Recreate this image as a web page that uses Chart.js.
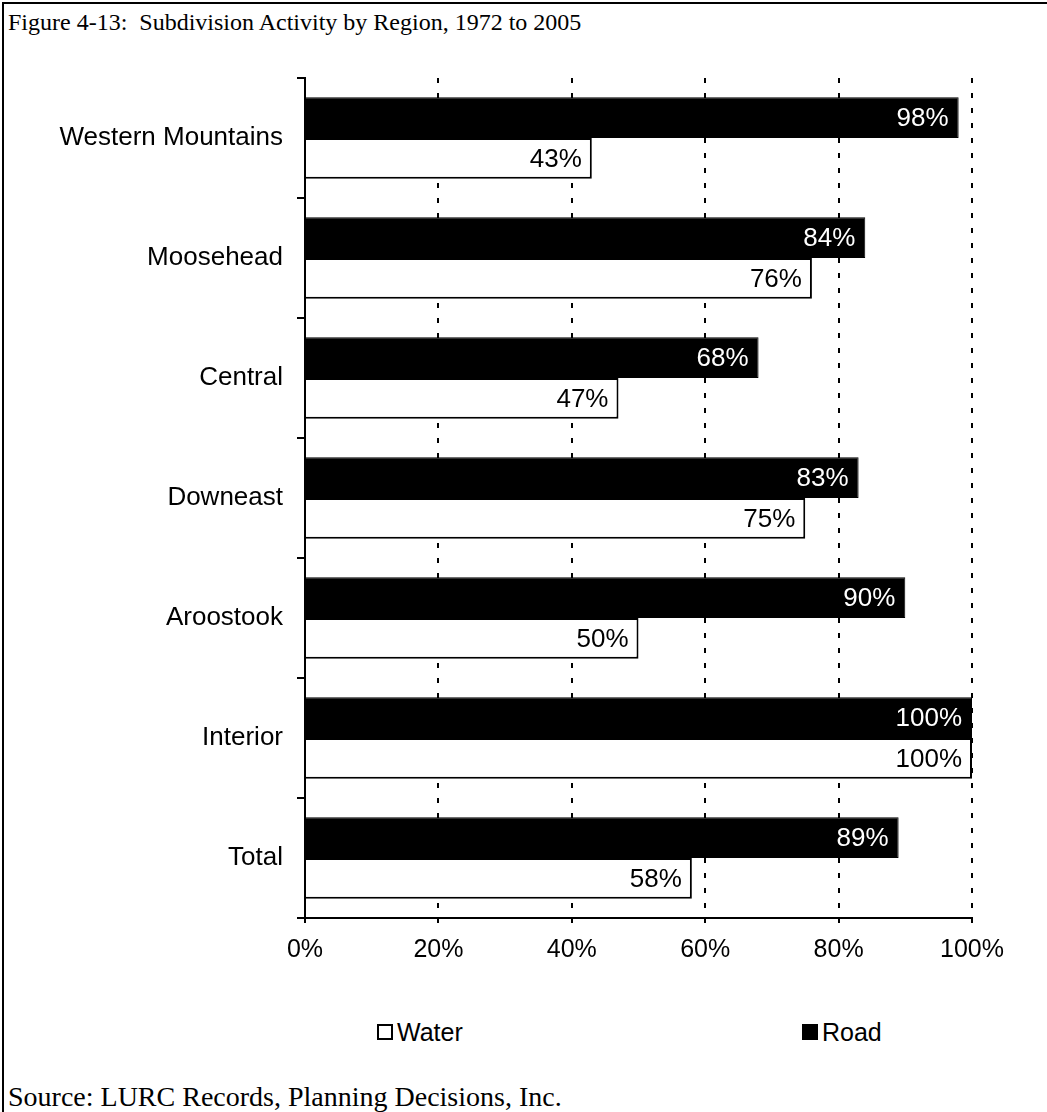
<!DOCTYPE html>
<html>
<head>
<meta charset="utf-8">
<script src="https://cdn.jsdelivr.net/npm/chart.js@4.4.1/dist/chart.umd.min.js"></script>
<style>
  html, body { margin:0; padding:0; background:#fff; width:1047px; height:1112px; overflow:hidden; }
  #frame { position:absolute; left:2px; top:2px; width:1300px; height:1400px; border-left:2px solid #000; border-top:2px solid #000; }
  .serif { position:absolute; font-family:"Liberation Serif","Times New Roman",serif; color:#000; white-space:pre; line-height:1; }
  #title { left:8px; top:10px; font-size:24px; }
  #source { left:8px; top:1083px; font-size:28px; }
  #chartBox { position:absolute; left:0; top:0; width:1047px; height:1000px; }
  .legItem { position:absolute; top:1017px; height:30px; display:flex; align-items:center; font-family:"Liberation Sans",Arial,sans-serif; font-size:25px; color:#000; }
  .legBox { width:16px; height:16px; box-sizing:border-box; border:2px solid #000; margin-right:4px; }
</style>
</head>
<body>
<div id="frame"></div>
<div id="title" class="serif">Figure 4-13:  Subdivision Activity by Region, 1972 to 2005</div>
<div id="chartBox"><canvas id="c" width="1047" height="1000"></canvas></div>
<div id="legend"></div>
<div id="source" class="serif">Source: LURC Records, Planning Decisions, Inc.</div>
<script>
const regions = ["Western Mountains", "Moosehead", "Central", "Downeast", "Aroostook", "Interior", "Total"];
const roadValues = [98, 84, 68, 83, 90, 100, 89];
const waterValues = [43, 76, 47, 75, 50, 100, 58];
const xTickValues = [0, 20, 40, 60, 80, 100];

const FONT = '"Liberation Sans", Arial, sans-serif';

const valueLabels = {
  id: 'valueLabels',
  afterDatasetsDraw(chart) {
    const ctx = chart.ctx;
    chart.data.datasets.forEach((ds, i) => {
      const meta = chart.getDatasetMeta(i);
      meta.data.forEach((bar, j) => {
        ctx.save();
        ctx.font = '26px ' + FONT;
        ctx.fillStyle = ds.labelColor;
        ctx.textAlign = 'right';
        ctx.textBaseline = 'middle';
        ctx.fillText(ds.data[j] + '%', bar.x - 10, bar.y + 1);
        ctx.restore();
      });
    });
  }
};

const chart = new Chart(document.getElementById('c'), {
  type: 'bar',
  data: {
    labels: regions,
    datasets: [
      { label: 'Road', data: roadValues, backgroundColor: '#000', borderColor: '#000', borderWidth: 1, labelColor: '#fff', legendOrder: 1 },
      { label: 'Water', data: waterValues, backgroundColor: '#fff', borderColor: '#000', borderWidth: 2, labelColor: '#000', legendOrder: 0 }
    ]
  },
  options: {
    indexAxis: 'y',
    responsive: false,
    animation: false,
    events: [],
    layout: { padding: { left: 0, top: 78, right: 75, bottom: 22 } },
    datasets: { bar: { categoryPercentage: 0.68, barPercentage: 1.0 } },
    plugins: { legend: { display: false }, tooltip: { enabled: false } },
    scales: {
      x: {
        min: 0, max: 100,
        afterBuildTicks: (s) => { s.ticks = xTickValues.map(v => ({ value: v })); },
        afterFit: (s) => { s.height = 60; },
        ticks: { callback: v => v + '%', color: '#000', font: { family: FONT, size: 25 }, padding: 12, maxRotation: 0 },
        grid: {
          color: (c) => (c.tick && c.tick.value === 0) ? 'rgba(0,0,0,0)' : '#000',
          lineWidth: 2, tickLength: 5, tickColor: '#000', tickWidth: 2, tickBorderDash: []
        },
        border: { color: '#000', width: 2, dash: [5, 10] }
      },
      y: {
        afterFit: (s) => { s.width = 305; },
        ticks: { color: '#000', font: { family: FONT, size: 26 }, padding: 14 },
        grid: { offset: true, drawOnChartArea: false, tickLength: 8, color: '#000', lineWidth: 2 },
        border: { color: '#000', width: 2 }
      }
    }
  },
  plugins: [valueLabels]
});

// HTML legend built from the chart's datasets (Water first, then Road)
const legendLefts = [377, 802];
const legend = document.getElementById('legend');
chart.data.datasets.slice().sort((a, b) => a.legendOrder - b.legendOrder).forEach((ds, k) => {
  const item = document.createElement('div');
  item.className = 'legItem';
  item.style.left = legendLefts[k] + 'px';
  const box = document.createElement('div');
  box.className = 'legBox';
  box.style.background = ds.backgroundColor;
  item.appendChild(box);
  item.appendChild(document.createTextNode(ds.label));
  legend.appendChild(item);
});
</script>
</body>
</html>
